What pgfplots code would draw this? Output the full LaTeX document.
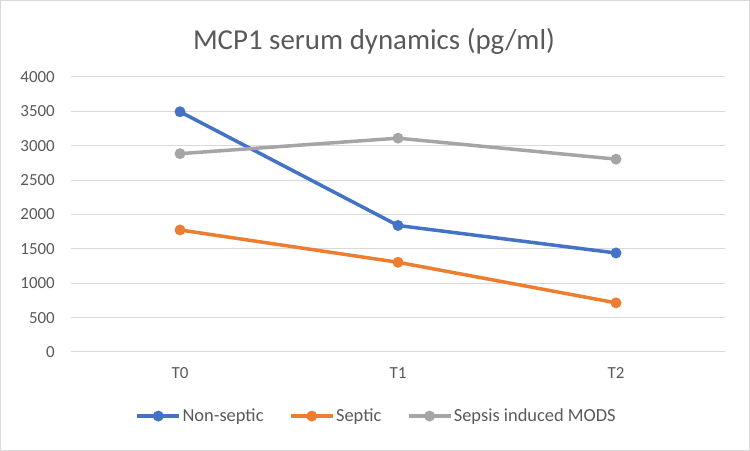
\documentclass[border=0pt]{standalone}
\usepackage{fontspec}
\setmainfont{Carlito}
\usepackage{pgfplots}
\pgfplotsset{compat=1.18}
\definecolor{cblue}{HTML}{4472C4}
\definecolor{corange}{HTML}{ED7D31}
\definecolor{cgray}{HTML}{A5A5A5}
\definecolor{gridc}{HTML}{D9D9D9}
\definecolor{txt}{HTML}{595959}
\begin{document}
\begin{tikzpicture}[x=1bp,y=1bp]
\useasboundingbox (0,0) rectangle (750,451);
\draw[color=gridc, line width=1bp] (0.5,0.5) rectangle (749.5,450.5);
\node[text=txt, font=\fontsize{29}{33}\selectfont] at (374,410) {MCP1 serum dynamics (pg/ml)};
\begin{axis}[
  at={(71bp,99bp)}, anchor=south west,
  width=654bp, height=275bp, scale only axis,
  xmin=-0.5, xmax=2.5, ymin=0, ymax=4000,
  ytick={0,500,...,4000},
  xtick={0,1,2}, xticklabels={T0,T1,T2},
  ymajorgrids, grid style={color=gridc, line width=1bp},
  axis line style={draw=none}, tick style={draw=none},
  /pgf/number format/assume math mode=true,
  /pgf/number format/1000 sep={},
  tick label style={text=txt, font=\fontsize{17}{20}\selectfont},
  yticklabel style={anchor=east, inner sep=0pt, xshift=-16bp},
  xticklabel style={anchor=north, inner sep=0pt, yshift=-15bp},
  legend style={at={(0.467,-0.233)}, anchor=center, draw=none, fill=none,
    legend columns=3, font=\fontsize{18.5}{21}\selectfont, text=txt,
    /tikz/every even column/.append style={column sep=24bp},
    nodes={inner sep=1.5bp}},
  legend cell align=left,
  legend image code/.code={\draw[mark repeat=2,mark phase=2] plot coordinates {(0bp,0bp) (21bp,0bp) (42bp,0bp)};},
  every axis plot/.append style={line width=3.5bp, mark=*, mark size=3.6bp},
]
\addplot[color=cblue, mark options={fill=cblue}] coordinates {(0,3495) (1,1840) (2,1440)};
\addlegendentry{Non-septic}
\addplot[color=corange, mark options={fill=corange}] coordinates {(0,1775) (1,1305) (2,715)};
\addlegendentry{Septic}
\addplot[color=cgray, mark options={fill=cgray}] coordinates {(0,2885) (1,3110) (2,2805)};
\addlegendentry{Sepsis induced MODS}
\end{axis}
\end{tikzpicture}
\end{document}
